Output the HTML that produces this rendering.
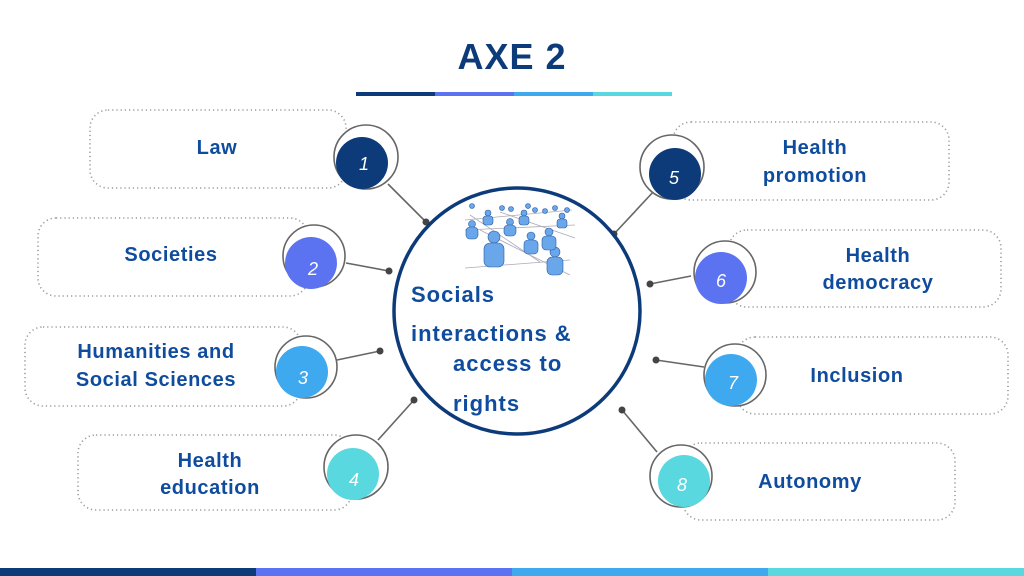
<!DOCTYPE html>
<html><head><meta charset="utf-8"><style>
html,body{margin:0;padding:0;background:#fff;}
svg{display:block;}
text{font-family:"Liberation Sans",sans-serif;font-weight:bold;}
.l{fill:#0f4c9e;font-size:20px;letter-spacing:0.6px;text-anchor:middle;}
.n{fill:#fff;font-size:18px;font-style:italic;font-weight:normal;text-anchor:middle;}
.b{fill:#fff;stroke:#9a9a9a;stroke-width:1.6;stroke-dasharray:1.2 3;}
.r{fill:#fff;stroke:#666;stroke-width:1.6;}
.c{stroke:#666;stroke-width:1.6;}
.m{font-size:22px;fill:#0f4c9e;letter-spacing:1px;}
</style></head><body>
<svg width="1024" height="576" viewBox="0 0 1024 576" xmlns="http://www.w3.org/2000/svg">
<text x="512" y="69" style="font-size:36px;fill:#0d3b7a;text-anchor:middle;letter-spacing:1px">AXE 2</text>
<rect x="356" y="92" width="79" height="4" fill="#0d3b7a"/>
<rect x="435" y="92" width="79" height="4" fill="#5b73f0"/>
<rect x="514" y="92" width="79" height="4" fill="#3fa9f0"/>
<rect x="593" y="92" width="79" height="4" fill="#5ad8e0"/>
<rect x="0" y="568" width="256" height="8" fill="#0d3b7a"/>
<rect x="256" y="568" width="256" height="8" fill="#5b73f0"/>
<rect x="512" y="568" width="256" height="8" fill="#3fa9f0"/>
<rect x="768" y="568" width="256" height="8" fill="#5ad8e0"/>

<rect class="b" x="90" y="110" width="256" height="78" rx="18"/>
<rect class="b" x="38" y="218" width="270" height="78" rx="18"/>
<rect class="b" x="25" y="327" width="276" height="79" rx="18"/>
<rect class="b" x="78" y="435" width="274" height="75" rx="18"/>
<rect class="b" x="673" y="122" width="276" height="78" rx="18"/>
<rect class="b" x="729" y="230" width="272" height="77" rx="18"/>
<rect class="b" x="737" y="337" width="271" height="77" rx="18"/>
<rect class="b" x="683" y="443" width="272" height="77" rx="18"/>

<text class="l" x="217" y="154">Law</text>
<text class="l" x="171" y="261">Societies</text>
<text class="l" x="156" y="358">Humanities and</text>
<text class="l" x="156" y="386">Social Sciences</text>
<text class="l" x="210" y="467">Health</text>
<text class="l" x="210" y="494">education</text>
<text class="l" x="815" y="154">Health</text>
<text class="l" x="815" y="182">promotion</text>
<text class="l" x="878" y="262">Health</text>
<text class="l" x="878" y="289">democracy</text>
<text class="l" x="857" y="382">Inclusion</text>
<text class="l" x="810" y="488">Autonomy</text>

<g class="c">
<line x1="388" y1="184" x2="426" y2="222"/>
<line x1="346" y1="263" x2="389" y2="271"/>
<line x1="337" y1="360" x2="380" y2="351"/>
<line x1="378" y1="440" x2="414" y2="400"/>
<line x1="655" y1="190" x2="614" y2="234"/>
<line x1="691" y1="276" x2="650" y2="284"/>
<line x1="704" y1="367" x2="656" y2="360"/>
<line x1="657" y1="452" x2="622" y2="410"/>
</g>
<g fill="#444">
<circle cx="426" cy="222" r="3.5"/><circle cx="389" cy="271" r="3.5"/>
<circle cx="380" cy="351" r="3.5"/><circle cx="414" cy="400" r="3.5"/>
<circle cx="614" cy="234" r="3.5"/><circle cx="650" cy="284" r="3.5"/>
<circle cx="656" cy="360" r="3.5"/><circle cx="622" cy="410" r="3.5"/>
</g>

<circle class="r" cx="366" cy="157" r="32"/><circle cx="362" cy="163" r="26" fill="#0d3b7a"/><text class="n" x="364" y="170">1</text>
<circle class="r" cx="314" cy="256" r="31"/><circle cx="311" cy="263" r="26" fill="#5b73f0"/><text class="n" x="313" y="275">2</text>
<circle class="r" cx="306" cy="367" r="31"/><circle cx="302" cy="372" r="26" fill="#3fa9f0"/><text class="n" x="303" y="384">3</text>
<circle class="r" cx="356" cy="467" r="32"/><circle cx="353" cy="474" r="26" fill="#5ad8e0"/><text class="n" x="354" y="486">4</text>
<circle class="r" cx="672" cy="167" r="32"/><circle cx="675" cy="174" r="26" fill="#0d3b7a"/><text class="n" x="674" y="184">5</text>
<circle class="r" cx="725" cy="272" r="31"/><circle cx="721" cy="278" r="26" fill="#5b73f0"/><text class="n" x="721" y="287">6</text>
<circle class="r" cx="735" cy="375" r="31"/><circle cx="731" cy="380" r="26" fill="#3fa9f0"/><text class="n" x="733" y="389">7</text>
<circle class="r" cx="681" cy="476" r="31"/><circle cx="684" cy="481" r="26" fill="#5ad8e0"/><text class="n" x="682" y="491">8</text>

<circle cx="517" cy="311" r="123" fill="#fff" stroke="#0d3b7a" stroke-width="3.5"/>
<g stroke="#aab" stroke-width="0.8">
<line x1="465" y1="220" x2="572" y2="210"/><line x1="465" y1="230" x2="575" y2="225"/>
<line x1="465" y1="268" x2="570" y2="260"/><line x1="480" y1="230" x2="570" y2="275"/>
<line x1="470" y1="215" x2="540" y2="262"/><line x1="500" y1="212" x2="575" y2="238"/>
</g>
<g fill="#6aa6ea" stroke="#2a5aa0" stroke-width="0.6">
<circle cx="494" cy="237" r="6"/><rect x="484" y="243" width="20" height="24" rx="6"/>
<circle cx="555" cy="252" r="5"/><rect x="547" y="257" width="16" height="18" rx="5"/>
<circle cx="531" cy="236" r="4"/><rect x="524" y="240" width="14" height="14" rx="4"/>
<circle cx="549" cy="232" r="4"/><rect x="542" y="236" width="14" height="14" rx="4"/>
<circle cx="472" cy="224" r="3.5"/><rect x="466" y="227" width="12" height="12" rx="4"/>
<circle cx="510" cy="222" r="3.5"/><rect x="504" y="225" width="12" height="11" rx="4"/>
<circle cx="488" cy="213" r="3"/><rect x="483" y="216" width="10" height="9" rx="3"/>
<circle cx="524" cy="213" r="3"/><rect x="519" y="216" width="10" height="9" rx="3"/>
<circle cx="562" cy="216" r="3"/><rect x="557" y="219" width="10" height="9" rx="3"/>
<circle cx="472" cy="206" r="2.5"/><circle cx="502" cy="208" r="2.5"/><circle cx="511" cy="209" r="2.5"/>
<circle cx="528" cy="206" r="2.5"/><circle cx="535" cy="210" r="2.5"/><circle cx="545" cy="211" r="2.5"/>
<circle cx="555" cy="208" r="2.5"/><circle cx="567" cy="210" r="2.5"/>
</g>
<text class="m" x="411" y="302">Socials</text>
<text class="m" x="411" y="341">interactions &amp;</text>
<text class="m" x="453" y="371">access to</text>
<text class="m" x="453" y="411">rights</text>
</svg>
</body></html>
